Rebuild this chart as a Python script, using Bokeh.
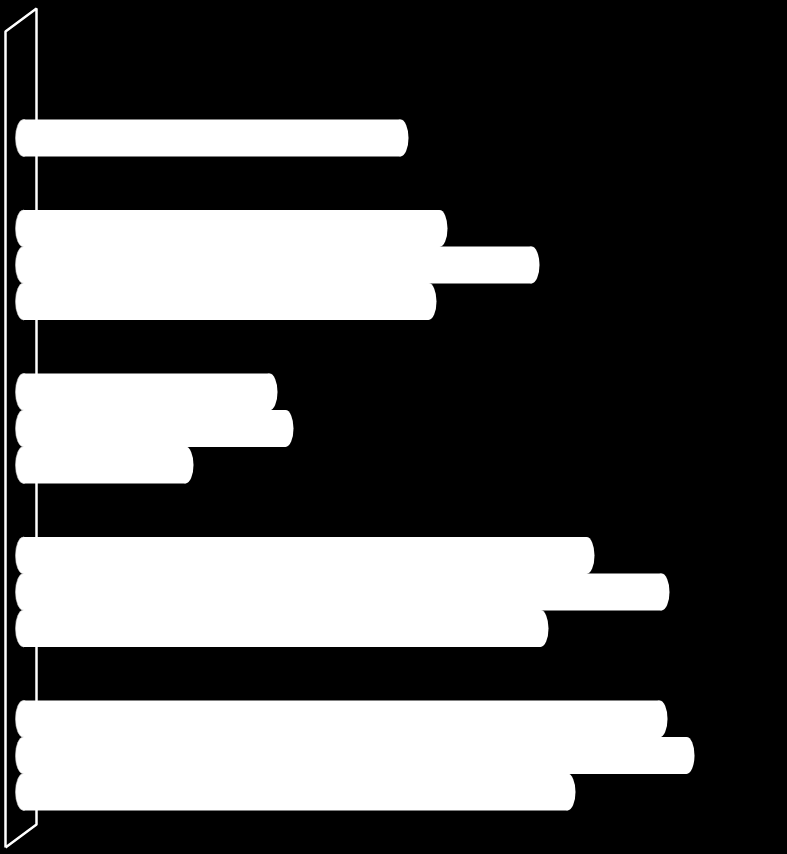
from bokeh.plotting import figure
from bokeh.models import Range1d, ColumnDataSource
from bokeh.embed import file_html
from bokeh.resources import INLINE

# ---- data ----
groups = ["Group 1", "Group 2", "Group 3", "Group 4", "Group 5"]
series_a = [None, 41.6, 24.6, 56.3, 63.6]
series_b = [None, 50.8, 26.2, 63.8, 66.3]
series_c = [37.7, 40.5, 16.2, 51.7, 54.4]

# ---- layout constants ----
W, H = 787, 854
offsets = [-1, 0, 1]
step = 0.2233          # distance between bars inside a group (group units)
bar_h = 0.226
cap_w = 1.6            # elliptical cap width (value units)

p = figure(width=W, height=H, output_backend="svg", toolbar_location=None,
           x_range=Range1d(-2.3, 76.4), y_range=Range1d(4.606, -0.618),
           min_border=0, background_fill_color="black", border_fill_color="black",
           outline_line_color=None)
p.axis.visible = False
p.grid.visible = False

# 3D wall (parallelogram) on the left
depth_x = 3.1
depth_y = 0.141
wall_x0 = -1.8
wall_top = -0.569
wall_bot = 4.563
p.line([wall_x0, wall_x0, wall_x0 + depth_x, wall_x0 + depth_x, wall_x0],
       [wall_bot, wall_top + depth_y, wall_top, wall_bot - depth_y, wall_bot],
       line_color="white", line_width=2.5)

ys, vals = [], []
for gi, g in enumerate(groups):
    for off, ser in zip(offsets, [series_a, series_b, series_c]):
        v = ser[gi]
        if v is None:
            continue
        ys.append(gi + off * step)
        vals.append(v)

src = ColumnDataSource(dict(y=ys, v=vals, z=[0] * len(vals)))
p.ellipse(x="z", y="y", width=cap_w, height=bar_h, source=src,
          fill_color="white", line_color="#cfcfcf", line_width=0.6)
p.hbar(y="y", left="z", right="v", height=bar_h, source=src,
       fill_color="white", line_color=None)
p.ellipse(x="v", y="y", width=cap_w, height=bar_h, source=src,
          fill_color="white", line_color=None)

template = """{% block preamble %}<style>html, body { background: #000000; }</style>{% endblock %}"""
open("out.html", "w").write(file_html(p, INLINE, template=template))
